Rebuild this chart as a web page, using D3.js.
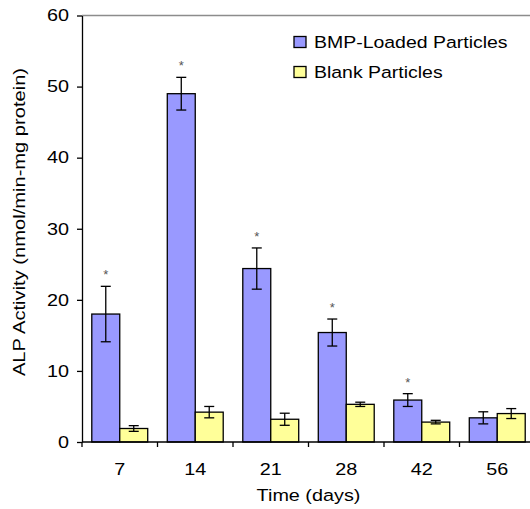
<!DOCTYPE html>
<html>
<head>
<meta charset="utf-8">
<script src="https://cdn.jsdelivr.net/npm/d3@7"></script>
<style>
  body { margin: 0; background: #fff; }
  text { font-family: "Liberation Sans", Arial, sans-serif; }
</style>
</head>
<body>
<div id="chart"></div>
<script>
// values
var days = ["7", "14", "21", "28", "42", "56"];
var bmpMeans = [18, 49, 24.4, 15.4, 5.9, 3.4];
var bmpErrors = [3.9, 2.3, 2.9, 1.9, 0.9, 0.85];
var blankMeans = [1.9, 4.2, 3.2, 5.3, 2.8, 4.0];
var blankErrors = [0.4, 0.8, 0.85, 0.3, 0.25, 0.7];
var significant = [true, true, true, true, true, false];
var seriesNames = ["BMP-Loaded Particles", "Blank Particles"];
var seriesColors = ["#9999ff", "#ffff99"];
var yTicks = [0, 10, 20, 30, 40, 50, 60];

var margin = { top: 15.5, right: -5, bottom: 67, left: 82 };
var width = 530 - margin.left - margin.right;
var height = 509 - margin.top - margin.bottom;
var fs = 16.5;      // font size
var stretch = 1.2;  // the original's text is a bit wide

var svg = d3.select("#chart")
  .append("svg")
  .attr("width", 530)
  .attr("height", 509)
  .append("g")
  .attr("transform", "translate(" + margin.left + "," + margin.top + ")");

var rows = [];
for (var i = 0; i < days.length; i++) {
  rows.push({ day: days[i], values: [
    { s: 0, mean: bmpMeans[i], err: bmpErrors[i], star: significant[i] },
    { s: 1, mean: blankMeans[i], err: blankErrors[i], star: false }
  ]});
}

var x0 = d3.scaleBand().domain(days).range([0, width]).padding(0);
var x1 = d3.scaleBand().domain([0, 1]).range([0, x0.bandwidth()])
  .paddingInner(0).paddingOuter(0.35);
var y = d3.scaleLinear().domain([0, 60]).range([height, 0]);

// plot border on top (grey)
svg.append("line")
  .attr("x1", 0).attr("x2", width)
  .attr("y1", y(60)).attr("y2", y(60))
  .attr("stroke", "#8c8c8c").attr("stroke-width", 1.3);

// y axis
var yAxis = d3.axisLeft(y).tickValues(yTicks).tickSize(5).tickSizeOuter(0).tickPadding(8);
var yg = svg.append("g").call(yAxis);
yg.select(".domain").attr("stroke", "#000").attr("stroke-width", 1.3);
yg.selectAll(".tick line").attr("stroke", "#000").attr("stroke-width", 1.3);
yg.selectAll("text")
  .attr("font-size", fs).attr("fill", "#000")
  .attr("font-family", "Liberation Sans, Arial, sans-serif")
  .attr("x", 0)
  .attr("transform", "translate(-13,0) scale(" + stretch + ",1)");

var groups = svg.selectAll(".grp")
  .data(rows)
  .enter()
  .append("g")
  .attr("class", "grp")
  .attr("transform", function(d) { return "translate(" + x0(d.day) + ",0)"; });

var bars = groups.selectAll(".bar")
  .data(function(d) { return d.values; })
  .enter()
  .append("g");

bars.append("rect")
  .attr("x", function(d) { return x1(d.s); })
  .attr("y", function(d) { return y(d.mean); })
  .attr("width", x1.bandwidth())
  .attr("height", function(d) { return height - y(d.mean); })
  .attr("fill", function(d) { return seriesColors[d.s]; })
  .attr("stroke", "#000")
  .attr("stroke-width", 1.3);

// error bars
var cx = function(d) { return x1(d.s) + x1.bandwidth() / 2; };
bars.append("line")
  .attr("x1", cx).attr("x2", cx)
  .attr("y1", function(d) { return y(d.mean + d.err); })
  .attr("y2", function(d) { return y(d.mean - d.err); })
  .attr("stroke", "#000").attr("stroke-width", 1.3);
bars.selectAll(".cap")
  .data(function(d) { return [{ d: d, v: d.mean + d.err }, { d: d, v: d.mean - d.err }]; })
  .enter()
  .append("line")
  .attr("x1", function(c) { return cx(c.d) - 5; })
  .attr("x2", function(c) { return cx(c.d) + 5; })
  .attr("y1", function(c) { return y(c.v); })
  .attr("y2", function(c) { return y(c.v); })
  .attr("stroke", "#000").attr("stroke-width", 1.3);

// significance marks
bars.filter(function(d) { return d.star; })
  .append("text")
  .attr("x", cx)
  .attr("y", function(d) { return y(d.mean + d.err) - 7; })
  .attr("text-anchor", "middle")
  .attr("font-size", 13)
  .attr("fill", "#555")
  .text("*");

// x axis
svg.append("line")
  .attr("x1", 0).attr("x2", width)
  .attr("y1", height).attr("y2", height)
  .attr("stroke", "#000").attr("stroke-width", 1.3);
var bounds = days.map(function(d) { return x0(d); }).concat([x0.range()[1]]);
svg.selectAll(".xtick")
  .data(bounds)
  .enter()
  .append("line")
  .attr("x1", function(d) { return d; }).attr("x2", function(d) { return d; })
  .attr("y1", height).attr("y2", height + 5)
  .attr("stroke", "#000").attr("stroke-width", 1.3);
svg.selectAll(".xlabel")
  .data(days)
  .enter()
  .append("text")
  .attr("transform", function(d) {
    return "translate(" + (x0(d) + x0.bandwidth() / 2) + "," + (height + 33) + ") scale(" + stretch + ",1)";
  })
  .attr("text-anchor", "middle")
  .attr("font-size", fs)
  .text(function(d) { return d; });

// axis titles
svg.append("text")
  .attr("transform", "translate(" + (width / 2) + "," + (height + 59) + ") scale(" + stretch + ",1)")
  .attr("text-anchor", "middle")
  .attr("font-size", fs)
  .text("Time (days)");
svg.append("text")
  .attr("transform", "translate(" + (25 - margin.left) + "," + (222 - margin.top) + ") rotate(-90) scale(1.22,1)")
  .attr("text-anchor", "middle")
  .attr("font-size", fs)
  .text("ALP Activity (nmol/min-mg protein)");

// legend
var legend = svg.selectAll(".legend")
  .data(seriesNames)
  .enter()
  .append("g")
  .attr("transform", function(d, i) { return "translate(" + (294 - margin.left) + "," + (36.5 - margin.top + i * 30) + ")"; });
legend.append("rect")
  .attr("width", 12).attr("height", 11)
  .attr("fill", function(d, i) { return seriesColors[i]; })
  .attr("stroke", "#000").attr("stroke-width", 1.3);
legend.append("text")
  .attr("transform", "translate(20,11.5) scale(1.18,1)")
  .attr("font-size", fs)
  .text(function(d) { return d; });
</script>
</body>
</html>
